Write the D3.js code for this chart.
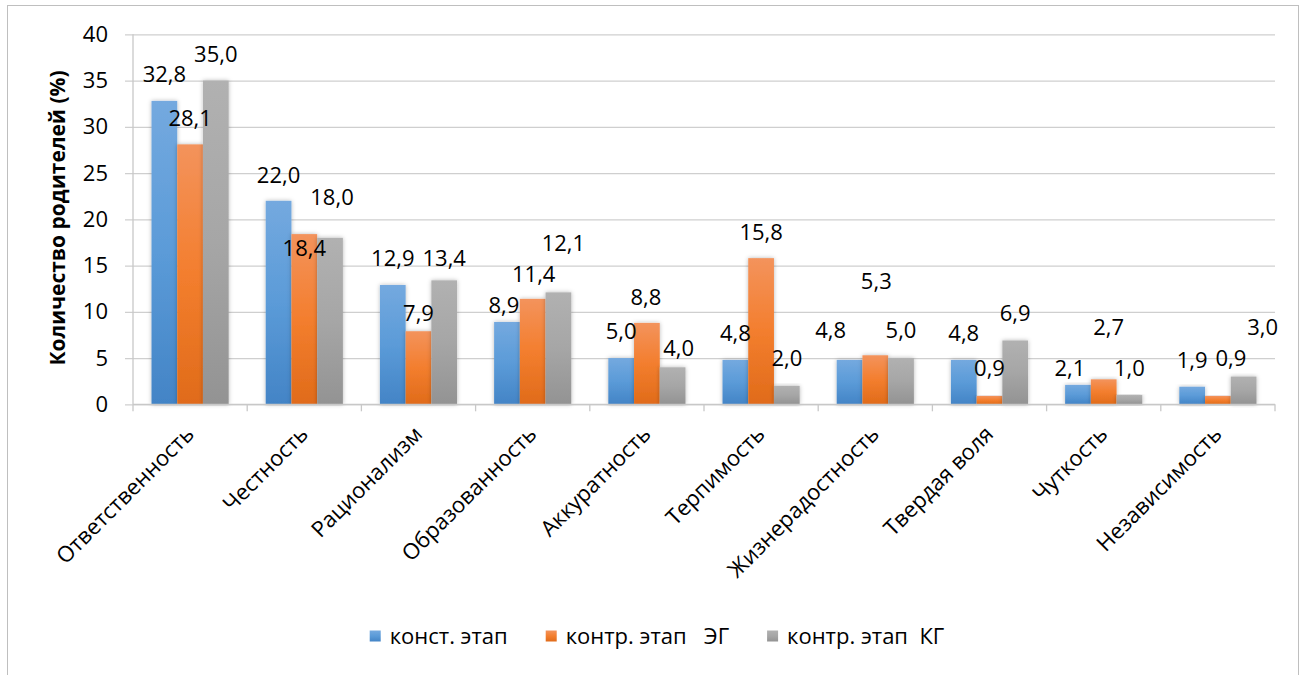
<!DOCTYPE html>
<html><head><meta charset="utf-8">
<script src="https://cdn.jsdelivr.net/npm/d3@7"></script>
<style>
  body { margin: 0; background: #fff; }
  text { font-family: "Open Sans", "DejaVu Sans", sans-serif; }
</style>
</head><body>
<svg id="chart" width="1309" height="675"></svg>
<script>
// Parent survey: qualities valued, % of parents, by stage/group
const categories = ["Ответственность", "Честность", "Рационализм", "Образованность", "Аккуратность",
  "Терпимость", "Жизнерадостность", "Твердая воля", "Чуткость", "Независимость"];
const seriesNames = ["конст. этап", "контр. этап   ЭГ", "контр. этап  КГ"];
const konstEtap = [32.8, 22.0, 12.9, 8.9, 5.0, 4.8, 4.8, 4.8, 2.1, 1.9];
const kontrEG   = [28.1, 18.4, 7.9, 11.4, 8.8, 15.8, 5.3, 0.9, 2.7, 0.9];
const kontrKG   = [35.0, 18.0, 13.4, 12.1, 4.0, 2.0, 5.0, 6.9, 1.0, 3.0];
const yTicks = [0, 5, 10, 15, 20, 25, 30, 35, 40];

// hand-placed label nudges [dx, dy] per series, relative to the default spot above the bar
const nudgeKonst = [[0,0],[0,1],[0,0],[-3,10],[0,0],[0,0],[-19,-3],[0,0],[-8,10],[0,0]];
const nudgeEG    = [[0,0],[0,40],[0,8],[1,2],[-1,1],[0,0],[1,-48],[0,-1],[5,-26],[13,-11]];
const nudgeKG    = [[0,0],[2,-14],[0,4],[5,-23],[6,7],[0,-1],[0,-1],[0,-1],[0,0],[19,-23]];

const seriesValues = [konstEtap, kontrEG, kontrKG];
const seriesNudges = [nudgeKonst, nudgeEG, nudgeKG];
const gradStops = [
  ["#74a9df", "#5b9bd8", "#4384c6"],
  ["#f3935c", "#f37e2e", "#e06b1a"],
  ["#b1b1b1", "#a6a6a6", "#939393"]
];
const FS = 22;

const svg = d3.select("#chart");
const plot = { left: 133, right: 1275, top: 34.3, bottom: 404.3 };

// frame
svg.append("rect").attr("x", 7.5).attr("y", 5.5).attr("width", 1291).attr("height", 700)
  .attr("fill", "#fff").attr("stroke", "#bfbfbf").attr("stroke-width", 1);

const defs = svg.append("defs");
gradStops.forEach((s, i) => {
  const g = defs.append("linearGradient").attr("id", "grad" + i)
    .attr("x1", 0).attr("y1", 0).attr("x2", 0).attr("y2", 1);
  g.append("stop").attr("offset", "0%").attr("stop-color", s[0]);
  g.append("stop").attr("offset", "50%").attr("stop-color", s[1]);
  g.append("stop").attr("offset", "100%").attr("stop-color", s[2]);
});
const shadow = defs.append("filter").attr("id", "shadow")
  .attr("x", "-30%").attr("y", "-10%").attr("width", "160%").attr("height", "120%");
shadow.append("feDropShadow").attr("dx", 0).attr("dy", 0).attr("stdDeviation", 2.2)
  .attr("flood-color", "#000").attr("flood-opacity", 0.28);

const y = d3.scaleLinear().domain([0, 40]).range([plot.bottom, plot.top]);
const x0 = d3.scaleBand().domain(categories).range([plot.left, plot.right]).padding(0);
const x1 = d3.scaleBand().domain(d3.range(3)).range([0, x0.bandwidth()])
  .paddingInner(0).paddingOuter(0.72);

// gridlines + y-axis
const yAxis = d3.axisLeft(y).tickValues(yTicks).tickSize(plot.right - plot.left + 8)
  .tickPadding(17).tickFormat(d3.format("d"));
const yg = svg.append("g").attr("transform", `translate(${plot.right},0)`).call(yAxis);
yg.select(".domain").remove();
yg.selectAll(".tick line").attr("stroke", "#cfcfcf").attr("stroke-width", 1.3);
yg.selectAll(".tick text").attr("font-size", FS).attr("fill", "#000").attr("font-family", null);
svg.append("line").attr("x1", plot.left).attr("x2", plot.left)
  .attr("y1", plot.top).attr("y2", plot.bottom).attr("stroke", "#c8c8c8").attr("stroke-width", 1.3);

// bars
const groups = svg.append("g").selectAll("g").data(categories).join("g")
  .attr("transform", d => `translate(${x0(d)},0)`);
groups.selectAll("rect")
  .data((c, ci) => seriesValues.map((vals, si) => ({ si, v: vals[ci] })))
  .join("rect")
  .attr("x", d => x1(d.si))
  .attr("width", x1.bandwidth())
  .attr("y", d => y(d.v))
  .attr("height", d => y(0) - y(d.v))
  .attr("fill", d => `url(#grad${d.si})`)
  .attr("filter", "url(#shadow)");

// x-axis line and ticks at band boundaries
const xg = svg.append("g").attr("transform", `translate(0,${plot.bottom})`);
xg.append("line").attr("x1", plot.left).attr("x2", plot.right).attr("stroke", "#c8c8c8").attr("stroke-width", 1.3);
xg.selectAll("line.tk").data(categories.concat([null])).join("line").attr("class", "tk")
  .attr("x1", (d, i) => i < categories.length ? x0(d) : plot.right)
  .attr("x2", (d, i) => i < categories.length ? x0(d) : plot.right)
  .attr("y1", 0).attr("y2", 7).attr("stroke", "#c8c8c8").attr("stroke-width", 1.3);

// category labels, rotated
svg.append("g").selectAll("text").data(categories).join("text")
  .attr("transform", d => `translate(${x0(d) + x0.bandwidth() / 2 - 6},${plot.bottom + 20}) rotate(-45)`)
  .attr("text-anchor", "end").attr("dy", "0.72em")
  .attr("font-size", FS).attr("fill", "#000").text(d => d);

// value labels
const fmt = v => v.toFixed(1).replace(".", ",");
groups.selectAll("text.val")
  .data((c, ci) => seriesValues.map((vals, si) => ({ si, v: vals[ci], n: seriesNudges[si][ci] })))
  .join("text").attr("class", "val")
  .attr("x", d => x1(d.si) + x1.bandwidth() / 2 + d.n[0])
  .attr("y", d => y(d.v) - 26.5 + d.n[1])
  .attr("dy", "0.36em").attr("text-anchor", "middle")
  .attr("font-size", FS).attr("fill", "#000")
  .text(d => fmt(d.v));

// y-axis title
svg.append("text")
  .attr("transform", `translate(57,218) rotate(-90)`)
  .attr("text-anchor", "middle").attr("dy", "0.36em")
  .attr("font-size", 21).attr("font-weight", "bold").attr("fill", "#000")
  .text("Количество родителей (%)");

// legend
const legend = svg.append("g");
let cx = 0;
seriesNames.forEach((name, i) => {
  const it = legend.append("g").attr("transform", `translate(${cx},0)`);
  it.append("rect").attr("x", 0).attr("y", -5.5).attr("width", 11).attr("height", 11)
    .attr("fill", `url(#grad${i})`);
  const t = it.append("text").attr("x", 20).attr("dy", "0.36em")
    .attr("font-size", FS).attr("fill", "#000")
    .style("white-space", "pre").text(name);
  cx += 20 + t.node().getComputedTextLength() + 38;
});
const legendWidth = cx - 38;
legend.attr("transform", `translate(${657 - legendWidth / 2},636)`);
</script>
</body></html>
